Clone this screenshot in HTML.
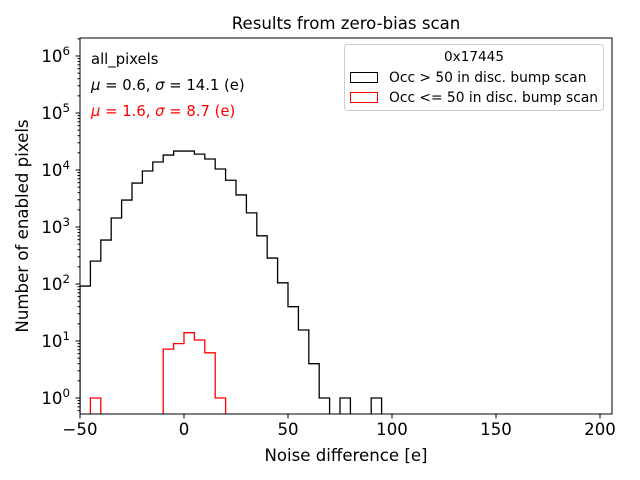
<!DOCTYPE html>
<html><head><meta charset="utf-8"><style>html,body{margin:0;background:#fff;overflow:hidden;width:640px;height:480px}svg{display:block;font-family:"DejaVu Sans","Liberation Sans",sans-serif}</style></head>
<body>
<svg id="c" width="640" height="480" viewBox="0 0 640 480">
<defs><clipPath id="clip"><rect x="80" y="38" width="532" height="376"/></clipPath></defs>
<rect x="0" y="0" width="640" height="480" fill="#fff"/>
<g id="plot" clip-path="url(#clip)"></g>
<rect x="80" y="38" width="532" height="376" fill="none" stroke="#000" stroke-width="1"/>
<g id="axes"></g>
<text x="346" y="29" font-size="16.6" text-anchor="middle">Results from zero-bias scan</text>
<text x="346" y="461" font-size="16.6" text-anchor="middle">Noise difference [e]</text>
<text x="28" y="226" font-size="16.6" text-anchor="middle" transform="rotate(-90 28 226)">Number of enabled pixels</text>
<text x="91" y="64" font-size="14.8">all_pixels</text>
<text x="91" y="90" font-size="14.8"><tspan font-style="italic">μ</tspan> = 0.6, <tspan font-style="italic">σ</tspan> = 14.1 (e)</text>
<text x="91" y="116" font-size="14.8" fill="#ff0000"><tspan font-style="italic">μ</tspan> = 1.6, <tspan font-style="italic">σ</tspan> = 8.7 (e)</text>
<g>
<rect x="344.5" y="44.5" width="259" height="66" rx="3" fill="#fff" stroke="#ccc"/>
<text x="474" y="61" font-size="13.6" text-anchor="middle">0x17445</text>
<rect x="350.5" y="72.5" width="27" height="10" fill="none" stroke="#000"/>
<text x="389" y="82" font-size="13.8">Occ &gt; 50 in disc. bump scan</text>
<rect x="350.5" y="92.5" width="27" height="10" fill="none" stroke="#ff0000"/>
<text x="389" y="102" font-size="13.8">Occ &lt;= 50 in disc. bump scan</text>
</g>
</svg>
<script>
const binStart = -50, binWidth = 5;
const blackCounts = [92,252,590,1440,2970,5900,9600,13800,18300,21500,21500,19000,15600,10400,6600,3650,1770,700,285,105,40,15.6,4,1,0,1,0,0,1,0];
const redCounts = [0,1,0,0,0,0,0,0,7.2,9,14,10.4,6.2,1,0];
const xTicks = [-50,0,50,100,150,200];
const yTickExps = [0,1,2,3,4,5,6];
const NS='http://www.w3.org/2000/svg';
function X(v){return 184+(v)*2.08;}
function Y(v){return 398-Math.log10(v)*57;}
const yLow=418;
function step(counts,color,name){
  let d='M'+X(binStart)+','+yLow;
  for(let i=0;i<counts.length;i++){
    const x0=X(binStart+i*binWidth),x1=X(binStart+(i+1)*binWidth);
    const y=counts[i]>0?Y(counts[i]):yLow;
    d+='L'+x0+','+y+'L'+x1+','+y;
  }
  d+='L'+X(binStart+counts.length*binWidth)+','+yLow;
  const p=document.createElementNS(NS,'path');
  p.setAttribute('d',d);p.setAttribute('fill','none');p.setAttribute('stroke',color);p.setAttribute('stroke-width','1.3');
  
  
  document.getElementById('plot').appendChild(p);
}
step(blackCounts,'#000','histogram-black');
step(redCounts,'#ff0000','histogram-red');
const ax=document.getElementById('axes');
function line(x1,y1,x2,y2){const l=document.createElementNS(NS,'line');l.setAttribute('x1',x1);l.setAttribute('y1',y1);l.setAttribute('x2',x2);l.setAttribute('y2',y2);l.setAttribute('stroke','#000');ax.appendChild(l);return l;}
xTicks.forEach(t=>{const x=X(t);const l=line(x,414,x,418.5);


const tx=document.createElementNS(NS,'text');tx.setAttribute('x',x);tx.setAttribute('y',435);tx.setAttribute('font-size','16.6');tx.setAttribute('text-anchor','middle');tx.textContent=t<0?'\u2212'+(-t):String(t);


ax.appendChild(tx);});
yTickExps.forEach(e=>{const y=Y(Math.pow(10,e));const l=line(75.5,y,80,y);


for(let m=2;m<10;m++){const yy=Y(m*Math.pow(10,e));if(yy>38&&yy<414){line(77.5,yy,80,yy);}}
const tx=document.createElementNS(NS,'text');tx.setAttribute('x',70);tx.setAttribute('y',y+6);tx.setAttribute('font-size','16.6');tx.setAttribute('text-anchor','end');
tx.innerHTML='10<tspan dy="-7" font-size="11.8">'+e+'</tspan>';


ax.appendChild(tx);});
for(let m=2;m<10;m++){const yy=Y(m*0.1);if(yy>38&&yy<414)line(77.5,yy,80,yy);}
</script>
</body></html>
